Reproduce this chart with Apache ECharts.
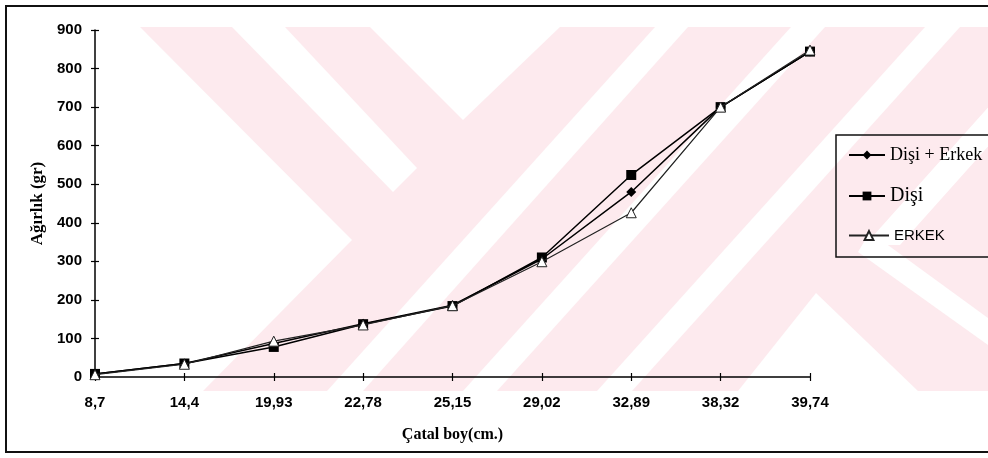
<!DOCTYPE html>
<html><head><meta charset="utf-8">
<script src="https://cdn.jsdelivr.net/npm/echarts@6/dist/echarts.min.js"></script>
<style>html,body{margin:0;padding:0;background:#fff}#c{width:988px;height:458px}</style>
</head><body><div id="c"></div>
<script>
// ---- data ----
const categories = ['8,7','14,4','19,93','22,78','25,15','29,02','32,89','38,32','39,74'];
const disiErkek = [8, 35, 87, 138, 186, 306, 480, 700, 844];
const disi      = [8, 35, 78, 137, 184, 310, 524, 700, 844];
const erkek     = [6, 33, 93, 135, 185, 299, 426, 700, 848];
const seriesNames = ['Dişi + Erkek', 'Dişi', 'ERKEK'];
const yMin = 0, yMax = 900, yInterval = 100;

// ---- decoration (background watermark, frame) ----
const PINK = '#fdeaee';
const whiteCuts = [
  [[140,27],[140,391],[203,391],[352,240]],
  [[232,27],[285,27],[417,168],[393,192]],
  [[370,27],[560,27],[463,120]],
  [[655,27],[688,27],[363,391],[327,391]],
  [[791,27],[825,27],[497,391],[463,391]],
  [[925,27],[960,27],[632,391],[597,391]],
  [[1060,27],[1095,27],[900,245],[865,245]],
  [[870,232],[988,318],[988,345],[858,252]],
  [[738,391],[816,293],[918,391]]
];
const graphic = [
  {type:'rect', z:-10, shape:{x:140,y:27,width:848,height:364}, style:{fill:PINK}, silent:true}
].concat(whiteCuts.map(p => ({type:'polygon', z:-9, shape:{points:p}, style:{fill:'#fff'}, silent:true})))
 .concat([
  {type:'polyline', z:20, shape:{points:[[988,6],[6,6],[6,452],[988,452]]}, style:{stroke:'#111', lineWidth:2, fill:null}, silent:true},
  {type:'rect', z:20, shape:{x:836,y:135,width:160,height:122}, style:{stroke:'#111', lineWidth:1.5, fill:null}, silent:true}
 ]);

const labelFont = {fontFamily:'Liberation Sans, Arial', fontWeight:'bold', fontSize:15, color:'#000'};
const chart = echarts.init(document.getElementById('c'), null, {renderer:'canvas'});
chart.setOption({
  animation:false,
  backgroundColor:'#fff',
  graphic: graphic,
  grid:{left:95, right:178, top:30, bottom:81, containLabel:false},
  xAxis:[
    {type:'category', data:categories, boundaryGap:false,
     axisLine:{lineStyle:{color:'#000', width:1.5}},
     axisTick:{length:4, lineStyle:{color:'#000', width:1.2}},
     axisLabel:Object.assign({margin:18}, labelFont),
     splitLine:{show:false},
     name:'Çatal boy(cm.)', nameLocation:'middle', nameGap:50,
     nameTextStyle:{fontFamily:'Liberation Serif, Times New Roman', fontWeight:'bold', fontSize:16, color:'#000'}},
    {type:'category', data:categories, boundaryGap:false, position:'bottom',
     axisLine:{show:false}, axisTick:{inside:true, length:4, lineStyle:{color:'#000', width:1.2}},
     axisLabel:{show:false}, splitLine:{show:false}}
  ],
  yAxis:[
    {type:'value', min:yMin, max:yMax, interval:yInterval,
     axisLine:{show:true, lineStyle:{color:'#000', width:1.5}},
     axisTick:{show:true, length:4, lineStyle:{color:'#000', width:1.2}},
     axisLabel:Object.assign({margin:13}, labelFont),
     splitLine:{show:false},
     name:'Ağırlık (gr)', nameLocation:'middle', nameGap:47,
     nameTextStyle:{fontFamily:'Liberation Serif, Times New Roman', fontWeight:'bold', fontSize:17, color:'#000'}},
    {type:'value', min:yMin, max:yMax, interval:yInterval, position:'left',
     axisLine:{show:false}, axisTick:{show:true, inside:true, length:4, lineStyle:{color:'#000', width:1.2}},
     axisLabel:{show:false}, splitLine:{show:false}}
  ],
  legend:[
    {data:[seriesNames[0]], left:848, top:146, padding:0, itemWidth:36, itemHeight:11, selectedMode:false,
     textStyle:{fontFamily:'Liberation Serif, Times New Roman', fontSize:18, color:'#000'}},
    {data:[seriesNames[1]], left:848, top:186, padding:0, itemWidth:36, itemHeight:11, selectedMode:false,
     textStyle:{fontFamily:'Liberation Serif, Times New Roman', fontSize:20, color:'#000'}},
    {data:[seriesNames[2]], left:848, top:228, padding:0, itemWidth:40, itemHeight:11, selectedMode:false,
     textStyle:{fontFamily:'Liberation Sans, Arial', fontSize:15, color:'#000'}}
  ],
  series:[
    {name:seriesNames[0], type:'line', data:disiErkek, symbol:'diamond', symbolSize:10,
     itemStyle:{color:'#000'}, lineStyle:{color:'#000', width:1.5}, z:3},
    {name:seriesNames[1], type:'line', data:disi, symbol:'rect', symbolSize:10,
     itemStyle:{color:'#000'}, lineStyle:{color:'#000', width:1.5}, z:4},
    {name:seriesNames[2], type:'line', data:erkek, symbol:'triangle', symbolSize:10,
     itemStyle:{color:'#fff', borderColor:'#222', borderWidth:1}, lineStyle:{color:'#222', width:1.2}, z:5}
  ]
});
</script></body></html>
